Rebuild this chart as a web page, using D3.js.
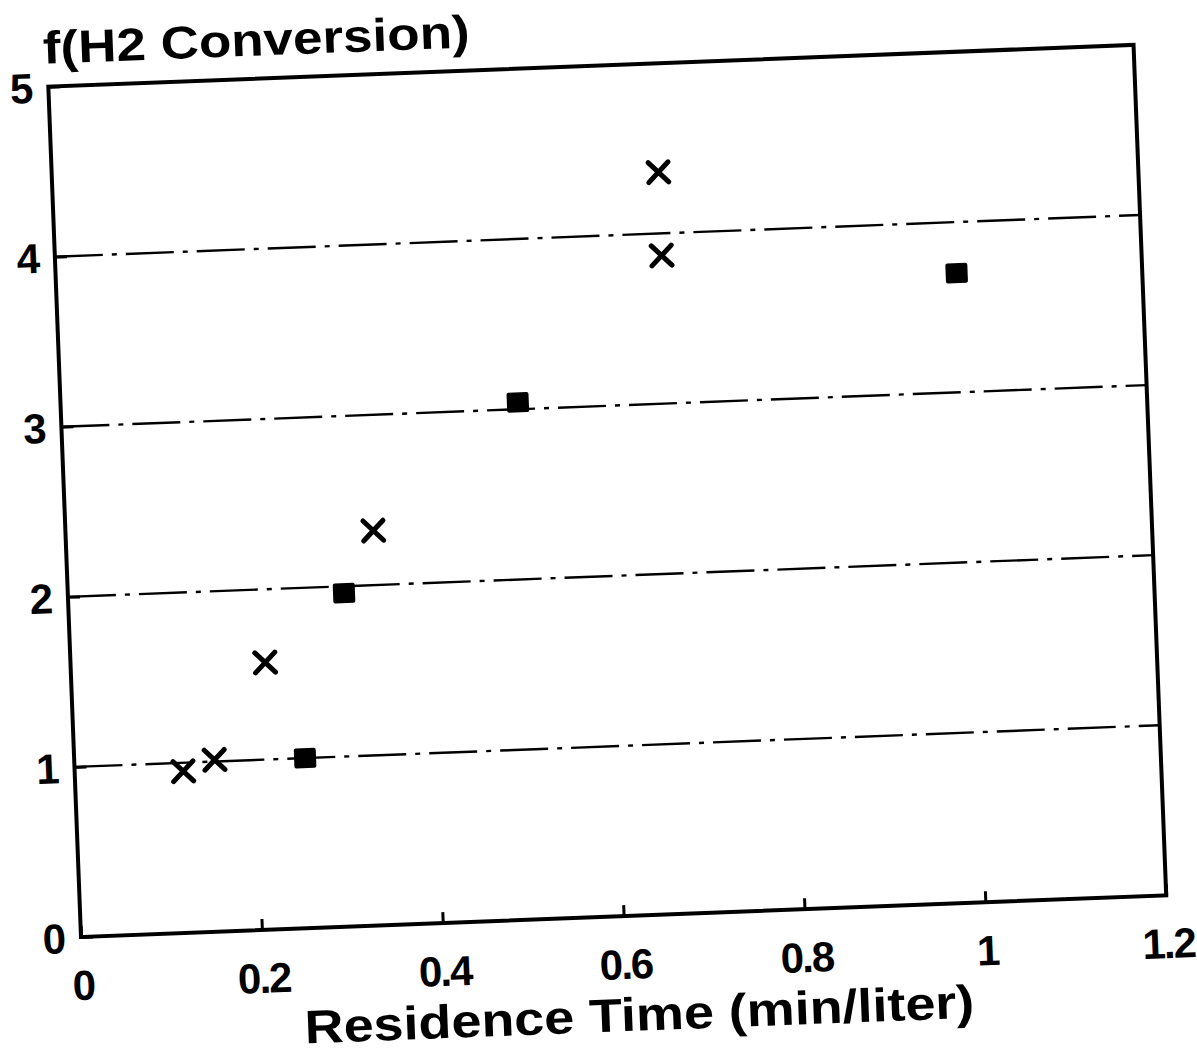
<!DOCTYPE html>
<html>
<head>
<meta charset="utf-8">
<script src="https://cdn.jsdelivr.net/npm/d3@7"></script>
<style>
  body { margin: 0; background: #fff; }
  text { font-family: "Liberation Sans", Arial, sans-serif; font-weight: bold; fill: #000; }
</style>
</head>
<body>
<div class="chart"></div>
<script>
(function() {
  'use strict';

  // tick values
  var xTicks = [0, 0.2, 0.4, 0.6, 0.8, 1, 1.2];
  var yTicks = [0, 1, 2, 3, 4, 5];
  var gridY = [1, 2, 3, 4];

  // series "x" markers
  var crossX = [0.12, 0.155, 0.215, 0.34, 0.67, 0.67];
  var crossY = [0.95, 1.01, 1.57, 2.32, 4.36, 3.87];

  // series square markers
  var squareX = [0.255, 0.305, 0.505, 0.995];
  var squareY = [1.0, 1.96, 3.04, 3.7];

  var width = 1197, height = 1057;
  var left = 81, top = 86, w = 1086, h = 851;

  var svg = d3.select(".chart").append("svg")
    .attr("width", width)
    .attr("height", height);

  // the scanned page sits slightly tilted
  var root = svg.append("g")
    .attr("transform", "rotate(-2.2," + left + "," + (top + h) + ")");

  var x = d3.scaleLinear().domain([0, 1.2]).range([0, w]);
  var y = d3.scaleLinear().domain([0, 5]).range([h, 0]);

  var g = root.append("g")
    .attr("transform", "translate(" + left + "," + top + ")");

  // grid lines
  g.selectAll(".grid")
    .data(gridY)
    .enter().append("line")
    .attr("class", "grid")
    .attr("x1", 0)
    .attr("x2", w)
    .attr("y1", function(d) { return y(d); })
    .attr("y2", function(d) { return y(d); })
    .attr("stroke", "#000")
    .attr("stroke-width", 2.4)
    .attr("stroke-dasharray", "48,9,5,9");

  // x axis
  var xAxis = g.append("g")
    .attr("transform", "translate(0," + h + ")")
    .call(d3.axisBottom(x).tickValues(xTicks).tickSize(-11).tickPadding(33)
      .tickFormat(function(d) { return String(d); }));
  xAxis.select(".domain").remove();
  xAxis.selectAll("line").attr("stroke-width", 3);
  xAxis.selectAll("text")
    .attr("font-size", 42)
    .attr("letter-spacing", -2);
  xAxis.attr("font-family", null).attr("font-size", null);

  // y axis
  var yAxis = g.append("g")
    .call(d3.axisLeft(y).tickValues(yTicks).tickSize(-12).tickPadding(15)
      .tickFormat(function(d) { return String(d); }));
  yAxis.select(".domain").remove();
  yAxis.selectAll("line").attr("stroke-width", 3);
  yAxis.selectAll("text")
    .attr("font-size", 42)
    .attr("dy", "0.36em");
  yAxis.attr("font-family", null).attr("font-size", null);

  // frame
  g.append("rect")
    .attr("x", 0)
    .attr("y", 0)
    .attr("width", w)
    .attr("height", h)
    .attr("fill", "none")
    .attr("stroke", "#000")
    .attr("stroke-width", 4);

  // crosses
  var s = 10;
  g.selectAll(".cross")
    .data(d3.range(crossX.length))
    .enter().append("path")
    .attr("class", "cross")
    .attr("d", function(i) {
      var cx = x(crossX[i]), cy = y(crossY[i]);
      return "M" + (cx - s) + "," + (cy - s) + "L" + (cx + s) + "," + (cy + s) +
        "M" + (cx - s) + "," + (cy + s) + "L" + (cx + s) + "," + (cy - s);
    })
    .attr("stroke", "#000")
    .attr("stroke-width", 5)
    .attr("stroke-linecap", "round");

  // squares
  g.selectAll(".square")
    .data(d3.range(squareX.length))
    .enter().append("rect")
    .attr("class", "square")
    .attr("x", function(i) { return x(squareX[i]) - 11; })
    .attr("y", function(i) { return y(squareY[i]) - 10; })
    .attr("width", 22)
    .attr("height", 20)
    .attr("rx", 2)
    .attr("fill", "#000");

  // titles
  root.append("text")
    .attr("x", 77)
    .attr("y", 63)
    .attr("font-size", 46)
    .attr("textLength", 427)
    .attr("lengthAdjust", "spacingAndGlyphs")
    .text("f(H2 Conversion)");

  root.append("text")
    .attr("x", 301)
    .attr("y", 1052)
    .attr("font-size", 47)
    .attr("textLength", 670)
    .attr("lengthAdjust", "spacingAndGlyphs")
    .text("Residence Time (min/liter)");

})();
</script>
</body>
</html>
